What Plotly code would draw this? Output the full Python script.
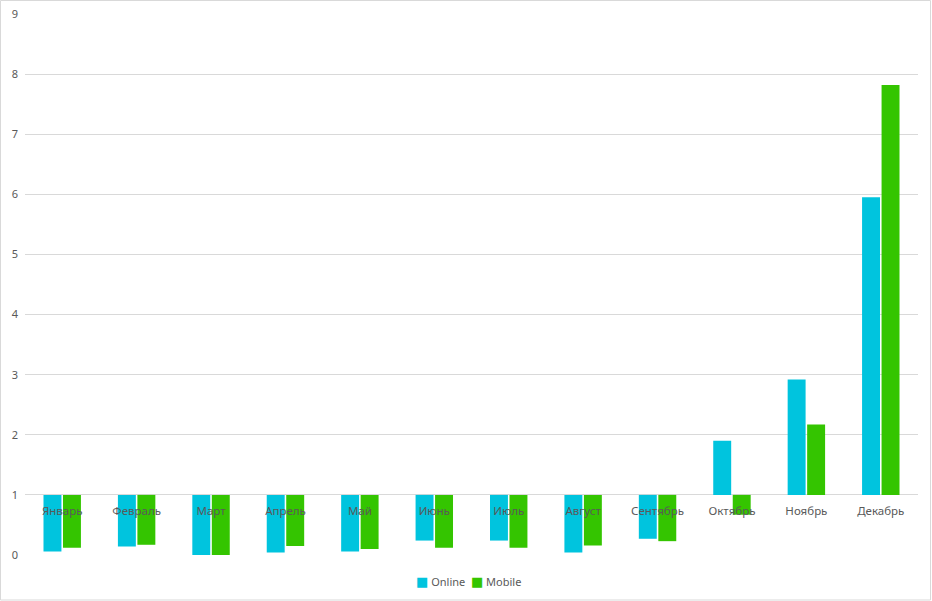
import plotly.graph_objects as go

months = ["Январь", "Февраль", "Март", "Апрель", "Май", "Июнь", "Июль",
          "Август", "Сентябрь", "Октябрь", "Ноябрь", "Декабрь"]
online = [0.06, 0.14, 0.0, 0.04, 0.06, 0.24, 0.24, 0.04, 0.27, 1.90, 2.92, 5.95]
mobile = [0.12, 0.17, 0.0, 0.15, 0.10, 0.12, 0.12, 0.16, 0.23, 0.67, 2.17, 7.82]
series_names = ["Online", "Mobile"]
series_colors = ["#00C4DE", "#34C500"]
y_ticks = list(range(0, 10))
base_value = 1

W, H = 932, 601
ml, mr, mt, mb = 25, 14, 14, 46
pw, ph = W - ml - mr, H - mt - mb

fig = go.Figure()
for name, vals, col in zip(series_names, [online, mobile], series_colors):
    fig.add_trace(go.Bar(name=name, x=months, y=[v - base_value for v in vals],
                         base=base_value, marker_color=col, marker_line_width=0,
                         customdata=vals,
                         hovertemplate="%{x}: %{customdata}<extra>" + name + "</extra>"))

legend_text = (f"<span style='color:{series_colors[0]};font-size:13px'>■</span> {series_names[0]}"
               f"  <span style='color:{series_colors[1]};font-size:13px'>■</span> {series_names[1]}")

fig.update_layout(
    width=W, height=H,
    margin=dict(l=ml, r=mr, t=mt, b=mb, autoexpand=False),
    paper_bgcolor="white", plot_bgcolor="white",
    barmode="group", bargap=0.476, bargroupgap=0.08,
    font=dict(family="Noto Sans, DejaVu Sans, sans-serif", size=11, color="#595959"),
    showlegend=False,
    xaxis=dict(anchor="free", position=base_value / 9, showline=False,
               showgrid=False, ticks="", tickfont=dict(size=11.5, color="#595959"),
               ticklabelstandoff=8, layer="above traces"),
    yaxis=dict(range=[0, 9], tickvals=y_ticks, showgrid=True, gridcolor="#D9D9D9",
               gridwidth=1, zeroline=False, showline=False, ticks="",
               tickfont=dict(size=11, color="#595959"), ticklabelstandoff=6),
    annotations=[dict(text=legend_text, xref="paper", yref="paper",
                      x=(468 - ml) / pw, y=(mt + ph - 581) / ph,
                      xanchor="center", yanchor="middle", showarrow=False,
                      font=dict(size=11, color="#595959"))],
    shapes=[dict(type="rect", xref="paper", yref="paper",
                 x0=(0.5 - ml) / pw, x1=(930.5 - ml) / pw,
                 y0=(mt + ph - 600) / ph, y1=(mt + ph - 0.5) / ph,
                 line=dict(color="#D9D9D9", width=1), fillcolor="rgba(0,0,0,0)",
                 layer="below")],
)

fig.write_html("out.html")
